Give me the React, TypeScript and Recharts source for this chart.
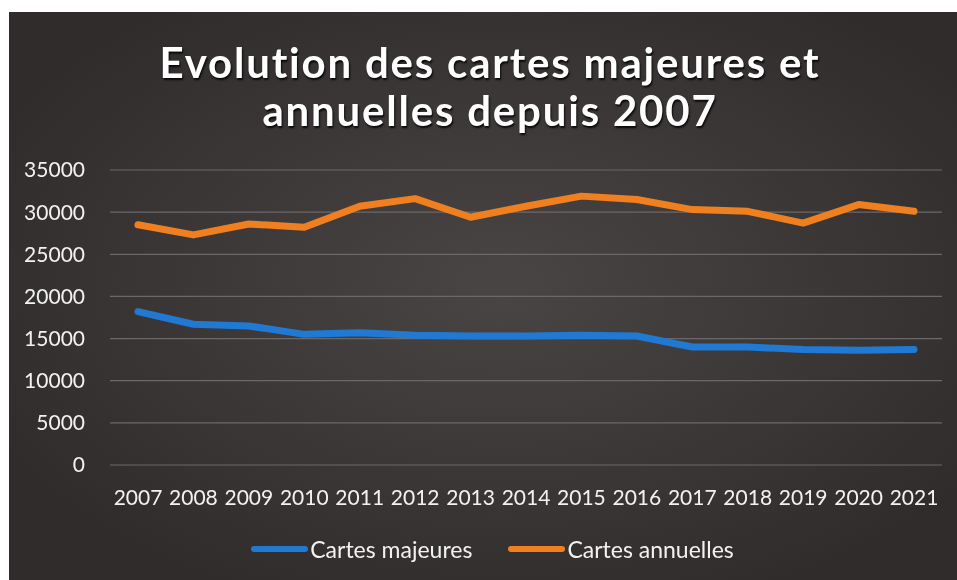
import React from 'react';
import { LineChart, Line, XAxis, YAxis, CartesianGrid, Legend } from 'recharts';

const years = ['2007', '2008', '2009', '2010', '2011', '2012', '2013', '2014', '2015', '2016', '2017', '2018', '2019', '2020', '2021'];
const cartesMajeures = [18200, 16700, 16500, 15500, 15700, 15400, 15300, 15300, 15400, 15300, 14000, 14000, 13700, 13600, 13700];
const cartesAnnuelles = [28500, 27300, 28600, 28200, 30700, 31600, 29400, 30700, 31900, 31500, 30300, 30100, 28700, 30900, 30100];
const yTicks = [0, 5000, 10000, 15000, 20000, 25000, 30000, 35000];
const seriesKeys = ['majeures', 'annuelles'];
const seriesNames: Record<string, string> = { majeures: 'Cartes majeures', annuelles: 'Cartes annuelles' };
const titleLines = ['Evolution des cartes majeures et', 'annuelles depuis 2007'];

const data = years.map((y, i) => ({ year: y, majeures: cartesMajeures[i], annuelles: cartesAnnuelles[i] }));

const BLUE = '#2079d3';
const ORANGE = '#f0801f';
const FONT = 'Lato, "Open Sans", sans-serif';

const LegendContent = (props: any) => {
  const payload = [...(props.payload || [])].sort(
    (a: any, b: any) => seriesKeys.indexOf(a.dataKey) - seriesKeys.indexOf(b.dataKey)
  );
  return (
    <div style={{ display: 'flex', justifyContent: 'center', alignItems: 'center', paddingLeft: 34, fontFamily: FONT, fontSize: 23, color: '#f2f2f2' }}>
      {payload.map((p: any, i: number) => (
        <div key={i} style={{ display: 'flex', alignItems: 'center', marginRight: i === 0 ? 36 : 0 }}>
          <div style={{ width: 57, height: 6, borderRadius: 3, background: p.color, marginRight: 2 }} />
          <span>{p.value}</span>
        </div>
      ))}
    </div>
  );
};

export default function App() {
  return (
    <div
      style={{
        position: 'fixed',
        left: 9,
        top: 12,
        width: 948,
        height: 568,
        background: 'radial-gradient(ellipse 60% 60% at 52% 48%, #4a4545 0%, #3f3a3a 45%, #312c2c 100%)',
        overflow: 'hidden',
      }}
    >
      <div
        style={{
          position: 'absolute',
          left: 0,
          top: 26,
          width: 948,
          paddingLeft: 14,
          boxSizing: 'border-box',
          textAlign: 'center',
          fontFamily: FONT,
          fontWeight: 700,
          fontSize: 42,
          lineHeight: '48px',
          letterSpacing: 1.8,
          color: '#ffffff',
          textShadow: '1px 2px 2px rgba(0,0,0,0.85)',
          whiteSpace: 'nowrap',
        }}
      >
        {titleLines.map((t, i) => (
          <div key={i}>{t}</div>
        ))}
      </div>
      <div style={{ position: 'absolute', left: 0, top: 0 }}>
        <LineChart width={948} height={568} data={data} margin={{ top: 158, right: 15, left: 0, bottom: 15 }}>
          <CartesianGrid vertical={false} stroke="#6d6868" strokeWidth={1.2} />
          <XAxis
            dataKey="year"
            axisLine={false}
            tickLine={false}
            tickSize={0}
            tickMargin={25}
            height={70}
            interval={0}
            padding={{ left: 28, right: 28 }}
            tick={{ fill: '#f2f2f2', fontSize: 21, fontFamily: FONT }}
          />
          <YAxis
            width={101}
            domain={[0, 35000]}
            ticks={yTicks}
            axisLine={false}
            tickLine={false}
            tickSize={0}
            tickMargin={25}
            tick={{ fill: '#f2f2f2', fontSize: 21, fontFamily: FONT }}
          />
          <Legend verticalAlign="bottom" height={30} content={<LegendContent />} />
          <Line
            type="linear"
            dataKey="majeures"
            name={seriesNames.majeures}
            stroke={BLUE}
            strokeWidth={7}
            strokeLinecap="round"
            strokeLinejoin="round"
            dot={false}
            activeDot={false}
            isAnimationActive={false}
          />
          <Line
            type="linear"
            dataKey="annuelles"
            name={seriesNames.annuelles}
            stroke={ORANGE}
            strokeWidth={7}
            strokeLinecap="round"
            strokeLinejoin="round"
            dot={false}
            activeDot={false}
            isAnimationActive={false}
          />
        </LineChart>
      </div>
    </div>
  );
}
